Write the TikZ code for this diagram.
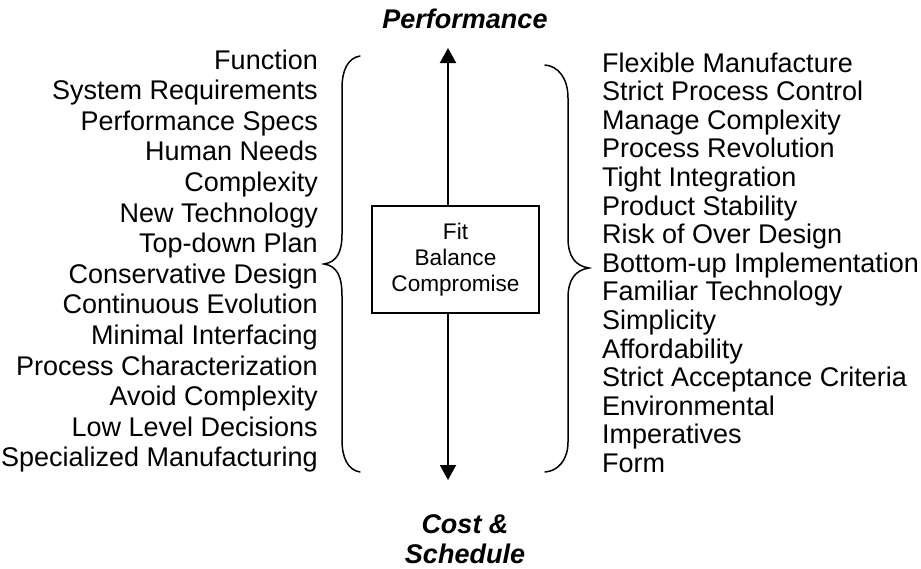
\documentclass[tikz,border=0pt]{standalone}
\usepackage{fontspec}
\setmainfont{Liberation Sans}
\usetikzlibrary{arrows.meta}

\tikzset{
  leftitem/.style={anchor=base east, inner sep=0pt, font=\fontsize{27}{30}\selectfont},
  rightitem/.style={anchor=base west, inner sep=0pt, font=\fontsize{27}{30}\selectfont},
  axislabel/.style={inner sep=0pt, align=center, font=\fontsize{27}{30}\selectfont\bfseries\itshape},
  centerbox/.style={draw, line width=1.2pt, fill=white, minimum width=167pt, minimum height=107pt,
    align=center, inner sep=0pt, font=\fontsize{22.6}{26}\selectfont},
  bracket/.style={line width=1.5pt, line cap=round},
  axis/.style={line width=2pt, {Triangle[width=16pt,length=15pt]}-{Triangle[width=16pt,length=15pt]}}
}

\begin{document}
\begin{tikzpicture}[x=1pt, y=-1pt]
\useasboundingbox (0,0) rectangle (921,568);

% vertical axis between the two goals
\coordinate (axisTop) at (448,48);
\coordinate (axisBottom) at (448,480);
\draw[axis] (axisTop) -- (axisBottom);

% axis labels
\node[axislabel, anchor=base] (perf) at (465,28) {Performance};
\node[axislabel, anchor=base] (cost) at (465,563) {Cost \&\\Schedule};

% central box
\node[centerbox] (fit) at (455.5,259.5) {Fit\\Balance\\Compromise};

% left brace
\draw[bracket] (360,56) .. controls (348,58) and (342,70) .. (342,88)
  -- (342,234) .. controls (342,252) and (337,262) .. (324,264)
  .. controls (337,266) and (342,276) .. (342,296)
  -- (342,440) .. controls (342,458) and (348,470) .. (360,472);

% right brace
\draw[bracket] (545,65) .. controls (558,66) and (568,78) .. (568,98)
  -- (568,238) .. controls (568,256) and (575,266) .. (589,268)
  .. controls (575,270) and (568,280) .. (568,298)
  -- (568,442) .. controls (568,460) and (558,471) .. (545,472);

% performance-driven attributes
\foreach \txt [count=\i from 0] in {Function, System Requirements, Performance Specs,
  Human Needs, Complexity, New Technology, Top-down Plan, Conservative Design,
  Continuous Evolution, Minimal Interfacing, Process Characterization,
  Avoid Complexity, Low Level Decisions, Specialized Manufacturing}
  \node[leftitem] (l\i) at (318, 69+30.6*\i) {\txt};

% cost and schedule driven attributes
\foreach \txt [count=\i from 0] in {Flexible Manufacture, Strict Process Control,
  Manage Complexity, Process Revolution, Tight Integration, Product Stability,
  Risk of Over Design, Bottom-up Implementation, Familiar Technology, Simplicity,
  Affordability, Strict Acceptance Criteria, Environmental, Imperatives, Form}
  \node[rightitem] (r\i) at (602, 72+28.6*\i) {\txt};
\end{tikzpicture}
\end{document}
